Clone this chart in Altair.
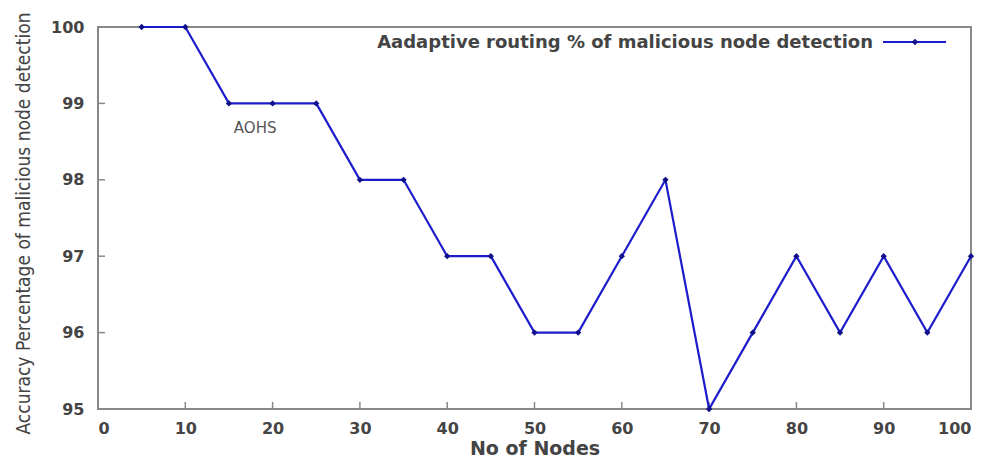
import altair as alt
import pandas as pd

nodes = [5, 10, 15, 20, 25, 30, 35, 40, 45, 50, 55, 60, 65, 70, 75, 80, 85, 90, 95, 100]
accuracy = [100, 100, 99, 99, 99, 98, 98, 97, 97, 96, 96, 97, 98, 95, 96, 97, 96, 97, 96, 97]
x_ticks = [0, 10, 20, 30, 40, 50, 60, 70, 80, 90, 100]
y_ticks = [95, 96, 97, 98, 99, 100]
series_name = "Aadaptive routing % of malicious node detection"
annot_text = ["AOHS"]
annot_x = [18.0]
annot_y = [98.68]

W, H = 873, 382
FONT = "DejaVu Sans"
LINE = "#1c1ccc"
MARK = "#10108a"

df = pd.DataFrame({"nodes": nodes, "acc": accuracy})
xs = alt.Scale(domain=[0, 100], nice=False)
ys = alt.Scale(domain=[95, 100], nice=False)

xax = alt.Axis(values=x_ticks, format="d", ticks=False, domain=False, grid=False, labelPadding=11,
               labelFont=FONT, labelFontSize=16, labelFontWeight="bold", labelColor="#444",
               title="No of Nodes",
               titleFont=FONT, titleFontSize=19, titleFontWeight="bold", titleColor="#444",
               titlePadding=3)
yax = alt.Axis(values=y_ticks, format="d", ticks=False, domain=False, grid=False, labelPadding=14,
               labelFont=FONT, labelFontSize=16, labelFontWeight="bold", labelColor="#444",
               title="Accuracy Percentage of malicious node detection",
               titleFont="DejaVu Sans Condensed", titleFontSize=19, titleFontWeight="normal",
               titleColor="#444", titlePadding=17, titleY=196)

line = alt.Chart(df).mark_line(color=LINE, strokeWidth=2.2).encode(
    x=alt.X("nodes:Q", scale=xs, axis=xax),
    y=alt.Y("acc:Q", scale=ys, axis=yax),
)
pts = alt.Chart(df).mark_point(shape="diamond", filled=True, color=MARK, size=40, opacity=1).encode(
    x=alt.X("nodes:Q", scale=xs), y=alt.Y("acc:Q", scale=ys)
)

xt = pd.DataFrame({"v": x_ticks[1:-1]})
yt = pd.DataFrame({"v": y_ticks[1:-1]})
xtick = alt.Chart(xt).mark_rule(color="#888", strokeWidth=1.5).encode(
    x=alt.X("v:Q", scale=xs), y=alt.value(H), y2=alt.value(H - 7))
ytick = alt.Chart(yt).mark_rule(color="#888", strokeWidth=1.5).encode(
    y=alt.Y("v:Q", scale=ys), x=alt.value(0), x2=alt.value(7))

ann = alt.Chart(pd.DataFrame({"t": annot_text, "x": annot_x, "y": annot_y})).mark_text(
    font=FONT, fontSize=15, color="#555", align="center", baseline="middle").encode(
    x=alt.X("x:Q", scale=xs), y=alt.Y("y:Q", scale=ys), text="t:N")

leg_df = pd.DataFrame({"t": [series_name]})
leg_text = alt.Chart(leg_df).mark_text(
    font=FONT, fontSize=18, fontWeight="bold", color="#444", align="right", baseline="middle").encode(
    x=alt.value(775), y=alt.value(16), text="t:N")
leg_line = alt.Chart(leg_df).mark_rule(color=LINE, strokeWidth=2.2).encode(
    x=alt.value(785), x2=alt.value(848), y=alt.value(15))
leg_pt = alt.Chart(leg_df).mark_point(shape="diamond", filled=True, color=MARK, size=40, opacity=1).encode(
    x=alt.value(817), y=alt.value(15))

chart = alt.layer(xtick, ytick, line, pts, ann, leg_line, leg_pt, leg_text).properties(
    width=W, height=H,
    autosize=alt.AutoSizeParams(type="none"),
    padding={"left": 90, "top": 19, "right": 16, "bottom": 55},
    background="white",
).configure_view(stroke="#888", strokeWidth=2)

chart.save("out.html", embed_options={"renderer": "svg", "actions": False})
